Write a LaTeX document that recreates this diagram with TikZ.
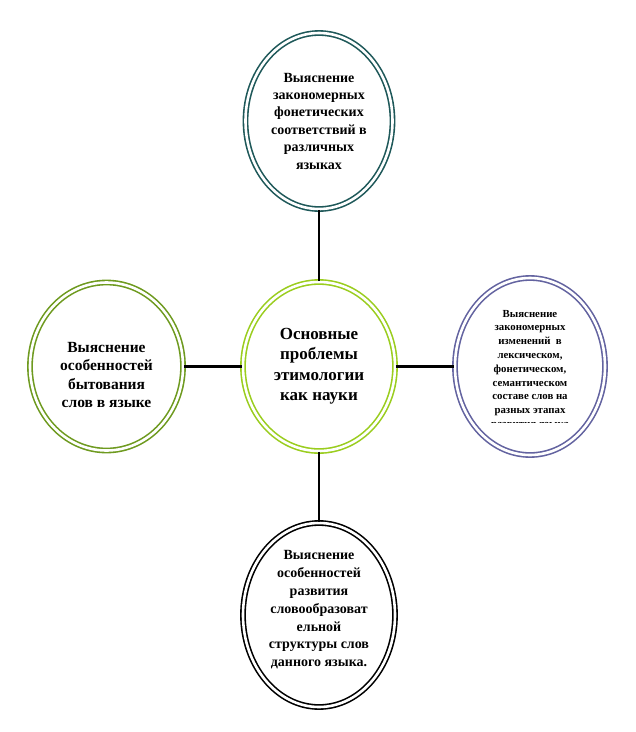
\documentclass[tikz,border=0pt]{standalone}
\usepackage{fontspec}
\setmainfont{Liberation Serif}
\usetikzlibrary{shapes.geometric}
\definecolor{cTop}{HTML}{1E5859}
\definecolor{cMid}{HTML}{9ACD1E}
\definecolor{cLeft}{HTML}{6E9A1F}
\definecolor{cRight}{HTML}{6363A0}
\definecolor{cBot}{HTML}{000000}
\begin{document}
\begin{tikzpicture}[x=1pt,y=1pt,
  oval/.style={ellipse, inner sep=0pt, line width=1.6pt, double=white, double distance=2.6pt},
  txt/.style={align=center, inner sep=0pt, font=\bfseries},
  link/.style={line width=2.6pt, black}]
\useasboundingbox (0,0) rectangle (636,-732);
\fill[white] (0,0) rectangle (636,-732);
% ellipses
\node[oval, draw=cTop, minimum width=147pt, minimum height=176pt] (top) at (319,-121) {};
\node[oval, draw=cMid, minimum width=152pt, minimum height=169pt] (mid) at (319,-366.5) {};
\node[oval, draw=cLeft, minimum width=153pt, minimum height=168pt] (left) at (106.5,-366.5) {};
\node[oval, draw=cRight, minimum width=150pt, minimum height=177pt] (right) at (530,-366.5) {};
\node[oval, draw=cBot, minimum width=152pt, minimum height=184pt] (bot) at (319,-615) {};
% connectors
\draw[link] (top.south) -- (mid.north);
\draw[link] (mid.south) -- (bot.north);
\draw[link] (left.east) -- (mid.west);
\draw[link] (mid.east) -- (right.west);
% texts
\node[txt, font=\fontsize{14}{17.4}\selectfont\bfseries] (ttop) at (319,-121) {Выяснение\\закономерных\\фонетических\\соответствий в\\различных\\языках};
\node[txt, font=\fontsize{17}{20.4}\selectfont\bfseries] (tmid) at (319,-366) {Основные\\проблемы\\этимологии\\как науки};
\node[txt, font=\fontsize{15.5}{18.5}\selectfont\bfseries] (tleft) at (106.5,-375) {Выяснение\\особенностей\\бытования\\слов в языке};
\begin{scope}
\clip (440,-270) rectangle (620,-422.5);
\node[txt, font=\fontsize{10.8}{13.8}\selectfont\bfseries] (tright) at (530,-370) {Выяснение\\закономерных\\изменений~ в\\лексическом,\\фонетическом,\\семантическом\\составе слов на\\разных этапах\\развития языка};
\end{scope}
\node[txt, font=\fontsize{14}{17.8}\selectfont\bfseries] (tbot) at (319,-610) {Выяснение\\особенностей\\развития\\словообразоват\\ельной\\структуры слов\\данного языка.};
\end{tikzpicture}
\end{document}
